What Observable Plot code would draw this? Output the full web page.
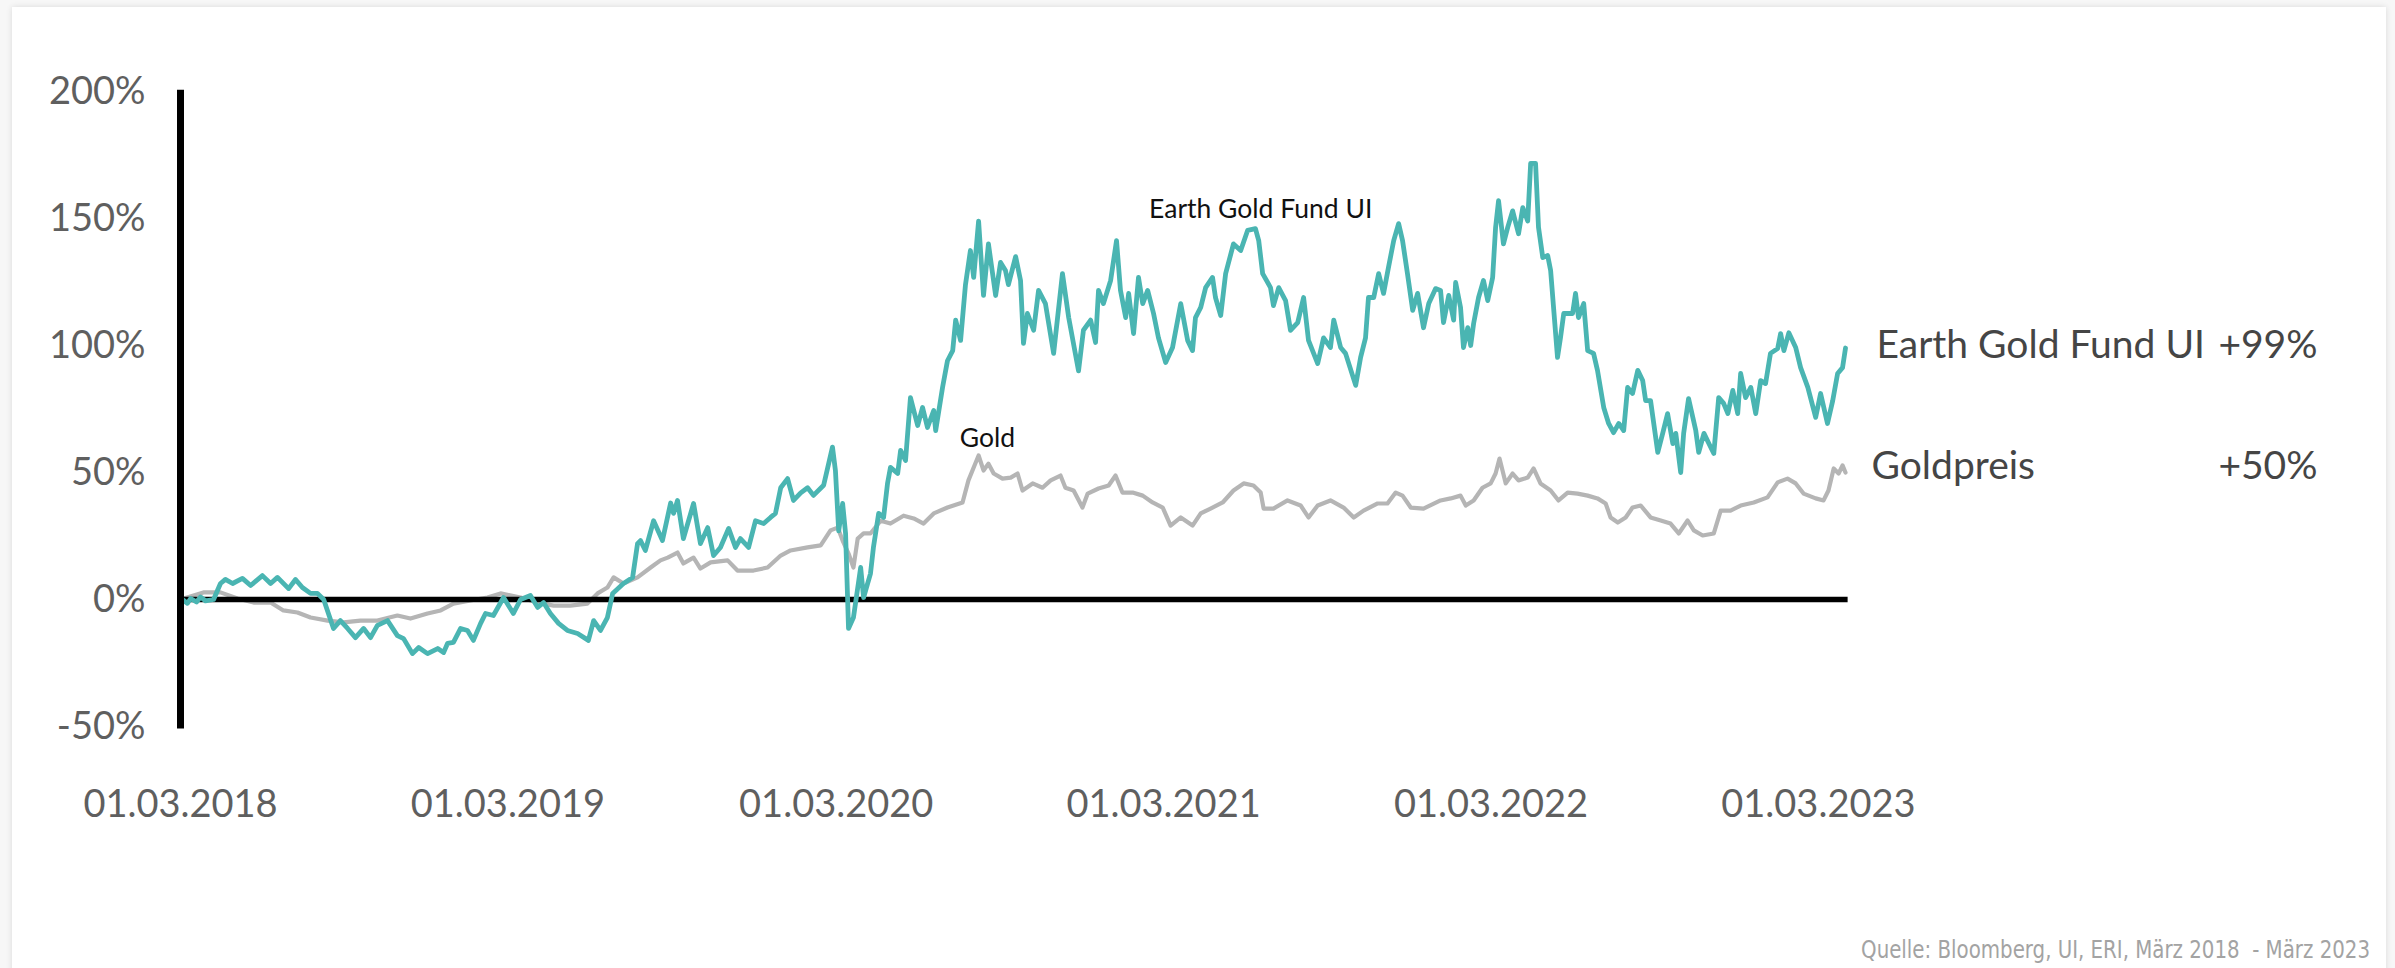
<!DOCTYPE html>
<html><head><meta charset="utf-8">
<script src="https://cdn.jsdelivr.net/npm/d3@7"></script>
<script src="https://cdn.jsdelivr.net/npm/@observablehq/plot@0.6"></script>
<style>
html,body{margin:0;padding:0;background:#f7f7f7;width:2395px;height:968px;overflow:hidden;}
#card{position:absolute;left:12px;top:7px;width:2374px;height:1000px;background:#fff;box-shadow:0 0 6px rgba(0,0,0,0.12);}
#chart{position:absolute;left:0;top:0;}
#caption{position:absolute;right:25px;top:937px;font-family:"Liberation Sans Narrow","Arial Narrow","DejaVu Sans Condensed",sans-serif;font-size:22px;line-height:26px;color:#a3a3a3;white-space:pre;transform:scaleY(1.1);transform-origin:right center;}
</style></head>
<body>
<div id="card"></div>
<div id="chart"></div>
<div id="caption">Quelle: Bloomberg, UI, ERI, März 2018  - März 2023</div>
<script>
// time = years since 01.03.2018, value = performance in %
const fundSeries = [[0,0],[0.006,0],[0.021,-1.5],[0.031,0.4],[0.049,-1],[0.061,1],[0.076,-0.5],[0.101,0],[0.122,6.3],[0.137,7.9],[0.159,6.3],[0.189,8.3],[0.214,5.5],[0.250,9.4],[0.275,6.3],[0.296,8.7],[0.330,4.3],[0.351,7.9],[0.372,4.7],[0.397,2.4],[0.418,2.4],[0.437,0],[0.467,-11.4],[0.488,-8.3],[0.510,-11.4],[0.534,-15],[0.559,-11.4],[0.580,-15],[0.601,-10.2],[0.632,-8.3],[0.662,-14.2],[0.681,-15.4],[0.708,-21.3],[0.727,-18.9],[0.754,-21.3],[0.785,-19.3],[0.803,-20.9],[0.815,-17.3],[0.833,-16.9],[0.855,-11.4],[0.876,-12.2],[0.894,-16.1],[0.916,-9.4],[0.931,-5.5],[0.955,-6.3],[0.986,0.8],[1.016,-5.5],[1.038,0],[1.068,1.6],[1.090,-3.1],[1.108,-1.2],[1.129,-5.5],[1.154,-9.4],[1.181,-12.2],[1.212,-13.4],[1.245,-16.1],[1.261,-8.3],[1.282,-12.2],[1.303,-7.1],[1.319,2.4],[1.352,6.3],[1.380,8.7],[1.395,22],[1.404,23.2],[1.419,19.3],[1.444,31],[1.471,23.2],[1.496,38],[1.505,33.9],[1.517,39],[1.535,24],[1.566,37.8],[1.587,22],[1.609,28.3],[1.627,17.3],[1.648,20.5],[1.673,28],[1.694,20.5],[1.709,24],[1.734,20.5],[1.755,31],[1.780,29.9],[1.801,32.3],[1.816,33.9],[1.832,44],[1.853,47.6],[1.871,39],[1.893,42],[1.914,44],[1.932,41],[1.963,45],[1.990,60],[1.999,50.8],[2.009,27],[2.021,37.8],[2.030,26],[2.039,-11.4],[2.054,-7.1],[2.076,12.6],[2.085,0.8],[2.106,10.2],[2.115,20.5],[2.131,33.9],[2.146,32.3],[2.158,45.7],[2.167,52],[2.189,49.6],[2.198,58.7],[2.213,54.7],[2.228,79.5],[2.250,68.5],[2.265,75.6],[2.280,67.7],[2.299,74.4],[2.305,66.5],[2.326,83.5],[2.341,94],[2.357,98],[2.366,110],[2.381,102],[2.396,124],[2.411,137.4],[2.421,126.8],[2.436,149],[2.451,119.7],[2.466,140],[2.488,119.7],[2.503,132.7],[2.518,129.5],[2.527,124],[2.549,135],[2.564,125.6],[2.573,100.8],[2.585,112.6],[2.604,106],[2.619,121.7],[2.640,116.5],[2.665,96.9],[2.692,128.3],[2.711,111],[2.741,90],[2.756,106],[2.778,110],[2.793,101.2],[2.802,121.7],[2.817,116.5],[2.839,125.6],[2.857,141.3],[2.869,121.7],[2.885,111],[2.894,120.5],[2.909,104.7],[2.924,126.8],[2.937,116.5],[2.952,121.7],[2.970,112.6],[2.985,103],[3.007,93.3],[3.028,99.2],[3.053,116.5],[3.074,102],[3.089,98],[3.098,111],[3.114,115],[3.129,122.8],[3.150,126.8],[3.159,118.9],[3.175,111.8],[3.190,128.3],[3.214,140],[3.236,137.4],[3.257,145.3],[3.281,146],[3.291,141.3],[3.303,128.3],[3.327,122.8],[3.336,115.7],[3.352,122.8],[3.373,117.7],[3.388,106],[3.410,109],[3.428,118.9],[3.443,102],[3.471,92.9],[3.489,103],[3.510,99.2],[3.520,110],[3.541,99.2],[3.556,96.9],[3.587,84.3],[3.602,95.3],[3.617,103],[3.626,118.9],[3.642,118.9],[3.657,128.3],[3.672,120.5],[3.687,130.7],[3.703,141.3],[3.718,148],[3.730,141.3],[3.745,128.3],[3.761,113.8],[3.776,120.5],[3.794,107],[3.810,116.5],[3.831,122.4],[3.846,121.7],[3.855,109],[3.871,119.7],[3.886,110],[3.892,124.8],[3.907,115],[3.916,99.2],[3.929,107],[3.938,100],[3.947,108.7],[3.962,118.9],[3.977,125.6],[3.990,117.7],[4.005,126.8],[4.014,146.5],[4.023,157],[4.038,140],[4.051,146.5],[4.066,153],[4.084,144],[4.097,154.3],[4.112,149],[4.121,171.7],[4.136,171.7],[4.145,146.5],[4.158,134.6],[4.173,135.4],[4.182,129.5],[4.203,95.3],[4.212,103],[4.222,112.6],[4.249,112.6],[4.258,120.5],[4.267,111],[4.283,116.5],[4.295,98],[4.313,96.9],[4.325,90.2],[4.344,75.6],[4.359,69.3],[4.374,65.7],[4.390,69.3],[4.405,66.5],[4.417,83.5],[4.432,81.1],[4.448,90.2],[4.463,86.2],[4.472,78.3],[4.487,78.3],[4.509,57.9],[4.524,65.4],[4.539,73.2],[4.555,61.4],[4.564,65.4],[4.579,50],[4.588,65.4],[4.603,79.1],[4.625,66.5],[4.634,57.9],[4.650,65.4],[4.665,61.4],[4.680,57.5],[4.695,79.5],[4.710,77.2],[4.723,73.2],[4.738,82.3],[4.753,73.2],[4.762,89],[4.777,79.5],[4.793,83.5],[4.808,73.2],[4.823,86.2],[4.838,85],[4.853,96.9],[4.875,98.8],[4.884,104.7],[4.894,98],[4.909,105],[4.930,99.2],[4.945,91.3],[4.967,83.5],[4.991,71.7],[5.006,81.1],[5.027,69.3],[5.043,78.3],[5.058,89],[5.073,91.3],[5.082,99]];

const goldSeries = [[0,0],[0.070,2.8],[0.122,2.8],[0.174,0.4],[0.223,-1.2],[0.275,-1.2],[0.314,-4.3],[0.357,-5.1],[0.397,-7.1],[0.449,-8.3],[0.498,-9],[0.549,-8.3],[0.601,-8.3],[0.662,-6.3],[0.702,-7.5],[0.754,-5.5],[0.794,-4.3],[0.833,-1.6],[0.885,-0.4],[0.937,0.8],[0.977,2.4],[1.038,0.8],[1.090,-1.2],[1.139,-2.4],[1.190,-2.4],[1.242,-1.6],[1.273,2.4],[1.303,4.7],[1.322,8.7],[1.352,6.3],[1.395,8.7],[1.435,12.6],[1.465,15.4],[1.487,16.5],[1.517,18.5],[1.535,14.2],[1.566,16.5],[1.587,12.2],[1.618,14.6],[1.670,15.4],[1.700,11.4],[1.749,11.4],[1.792,12.6],[1.832,17.3],[1.862,19.3],[1.914,20.5],[1.954,21.3],[1.984,27.2],[2.006,28.3],[2.021,23.2],[2.039,18.1],[2.054,12.6],[2.067,24],[2.085,26],[2.106,26],[2.137,31],[2.167,29.9],[2.207,33],[2.238,31.9],[2.268,29.9],[2.299,33.9],[2.341,36.2],[2.387,38.2],[2.405,46.9],[2.421,52],[2.436,56.7],[2.451,50.8],[2.466,53.5],[2.482,49.6],[2.509,47.6],[2.534,48],[2.555,49.6],[2.570,42.9],[2.601,45.7],[2.631,44],[2.656,46.9],[2.686,48.8],[2.701,44],[2.726,42.9],[2.753,36.2],[2.769,41.7],[2.802,43.7],[2.833,44.9],[2.854,48.8],[2.875,42.1],[2.906,42.1],[2.937,40.9],[2.967,38.2],[2.998,36.2],[3.022,29.1],[3.053,32.3],[3.089,29.1],[3.114,33.9],[3.144,35.8],[3.181,38.2],[3.214,42.9],[3.245,45.7],[3.275,44.9],[3.297,42.1],[3.306,35.8],[3.336,35.8],[3.379,39],[3.419,37],[3.443,32.3],[3.471,37],[3.510,39],[3.550,36.2],[3.581,32.3],[3.611,35],[3.654,37.8],[3.684,37.8],[3.709,42.1],[3.730,40.9],[3.755,36.2],[3.794,35.8],[3.846,39],[3.877,39.8],[3.907,40.9],[3.923,37],[3.947,39],[3.974,44],[3.999,45.7],[4.014,49.6],[4.026,55.5],[4.045,45.7],[4.066,49.6],[4.084,46.9],[4.112,48],[4.130,51.6],[4.151,45.7],[4.182,42.9],[4.206,39],[4.234,42.1],[4.264,41.7],[4.295,40.9],[4.325,39.8],[4.350,37.8],[4.365,32.3],[4.387,30.3],[4.411,32.3],[4.432,36.2],[4.457,37],[4.487,32.3],[4.518,31.1],[4.548,29.9],[4.573,26],[4.600,31.1],[4.619,27.2],[4.646,25.2],[4.680,26],[4.701,35],[4.731,35],[4.762,37],[4.802,38.2],[4.844,40.2],[4.875,46.1],[4.905,47.6],[4.930,45.7],[4.954,41.7],[4.991,39.8],[5.015,39],[5.030,42.9],[5.046,51.6],[5.061,49.6],[5.073,52.8],[5.082,50]];

const xTickLabels = ["01.03.2018","01.03.2019","01.03.2020","01.03.2021","01.03.2022","01.03.2023"];
const yTicks = [-50, 0, 50, 100, 150, 200];
const seriesNames = ["Earth Gold Fund UI", "Goldpreis"];
const seriesReturns = ["+99%", "+50%"];
const inlineLabels = ["Earth Gold Fund UI", "Gold"];

const start = Date.UTC(2018, 2, 1);
const toDate = t => new Date(start + t * 365.25 * 864e5);
const parseTick = s => { const [d, m, y] = s.split(".").map(Number); return new Date(Date.UTC(y, m - 1, d)); };
const xTicks = xTickLabels.map(parseTick);
const endT = fundSeries[fundSeries.length - 1][0];
const endDate = toDate(endT);
const fmt = d3.utcFormat("%d.%m.%Y");

const teal = "#4ab5b2", grey = "#b5b5b5", tickGrey = "#5f5f5f", labelGrey = "#454545";

const chart = Plot.plot({
  width: 2395, height: 968,
  marginLeft: 180, marginRight: 550, marginTop: 65.6, marginBottom: 216.6,
  style: {fontFamily: "Lato, 'Open Sans', sans-serif", background: "transparent", overflow: "visible"},
  x: {type: "utc", domain: [toDate(0), endDate]},
  y: {domain: [-60, 210]},
  marks: [
    Plot.axisY({ticks: yTicks, tickFormat: d => d + "%", tickSize: 0, tickPadding: 35, fontSize: 38, fill: tickGrey, label: null}),
    Plot.axisX({ticks: xTicks, tickFormat: fmt, tickSize: 0, tickPadding: 38, fontSize: 38, fill: tickGrey, label: null}),
    Plot.line(goldSeries, {x: d => toDate(d[0]), y: d => d[1], stroke: grey, strokeWidth: 4.2, strokeLinejoin: "round"}),
    Plot.ruleY([0], {x1: toDate(0), x2: toDate(endT + 0.008), stroke: "#000", strokeWidth: 5.5}),
    Plot.line(fundSeries, {x: d => toDate(d[0]), y: d => d[1], stroke: teal, strokeWidth: 4.8, strokeLinejoin: "round"}),
    Plot.ruleX([toDate(0)], {y1: -51, y2: 200.5, stroke: "#000", strokeWidth: 7}),
    // inline labels
    Plot.text([inlineLabels[0]], {x: toDate(3.297), y: 153.5, text: d => d, fontSize: 26.5, fill: "#111", textAnchor: "middle"}),
    Plot.text([inlineLabels[1]], {x: toDate(2.463), y: 63.4, text: d => d, fontSize: 26.5, fill: "#111", textAnchor: "middle"}),
    // right-hand labels
    Plot.text([seriesNames[0]], {x: endDate, y: 100, text: d => d, dx: 31, textAnchor: "start", fontSize: 39, fill: labelGrey}),
    Plot.text([seriesReturns[0]], {x: endDate, y: 100, text: d => d, dx: 472, textAnchor: "end", fontSize: 39, fill: labelGrey}),
    Plot.text([seriesNames[1]], {x: endDate, y: 52.4, text: d => d, dx: 26, textAnchor: "start", fontSize: 39, fill: labelGrey}),
    Plot.text([seriesReturns[1]], {x: endDate, y: 52.4, text: d => d, dx: 472, textAnchor: "end", fontSize: 39, fill: labelGrey})
  ]
});
document.getElementById("chart").appendChild(chart);
</script>
</body></html>
